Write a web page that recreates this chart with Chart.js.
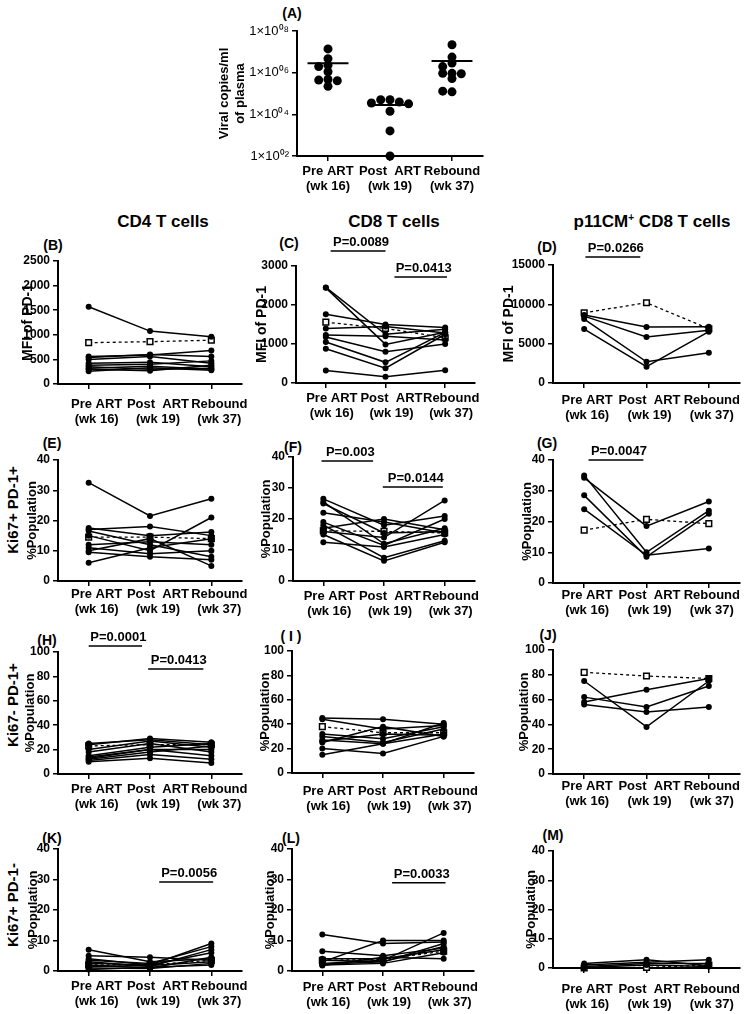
<!DOCTYPE html>
<html>
<head>
<meta charset="utf-8">
<script src="https://cdn.jsdelivr.net/npm/chart.js@4.4.0/dist/chart.umd.min.js"></script>
<style>
  body { margin: 0; background: #fff; width: 754px; height: 1014px; position: relative; overflow: hidden;
         font-family: "Liberation Sans", Arial, sans-serif; }
  canvas { position: absolute; }
  .t { position: absolute; font-weight: bold; color: #000; white-space: nowrap; transform: translate(-50%, -50%); }
  .row { transform: translate(-50%, -50%) rotate(-90deg); font-size: 15px; }
</style>
</head>
<body>

<div class="t" style="left:292px;top:13px;font-size:14px">(A)</div>
<div class="t" style="left:163px;top:222px;font-size:17px">CD4 T cells</div>
<div class="t" style="left:394px;top:222px;font-size:17px">CD8 T cells</div>
<div class="t" style="left:652px;top:222px;font-size:17px">p11CM<sup style="font-size:10px">+</sup> CD8 T cells</div>

<div class="t row" style="left:12px;top:510px">Ki67+ PD-1+</div>
<div class="t row" style="left:12px;top:705px">Ki67- PD-1+</div>
<div class="t row" style="left:12px;top:905px">Ki67+ PD-1-</div>

<div class="t" style="left:53px;top:245px;font-size:14px">(B)</div>
<div class="t" style="left:289px;top:243px;font-size:14px">(C)</div>
<div class="t" style="left:547px;top:247px;font-size:14px">(D)</div>
<div class="t" style="left:52px;top:443px;font-size:14px">(E)</div>
<div class="t" style="left:293px;top:447px;font-size:14px">(F)</div>
<div class="t" style="left:547px;top:443px;font-size:14px">(G)</div>
<div class="t" style="left:47px;top:640px;font-size:14px">(H)</div>
<div class="t" style="left:291px;top:636px;font-size:14px">( I )</div>
<div class="t" style="left:548px;top:635px;font-size:14px">(J)</div>
<div class="t" style="left:52px;top:838px;font-size:14px">(K)</div>
<div class="t" style="left:291px;top:838px;font-size:14px">(L)</div>
<div class="t" style="left:553px;top:835px;font-size:14px">(M)</div>

<script>
// ---- data ----
const timepoints = [['Pre ART', '(wk 16)'], ['Post  ART', '(wk 19)'], ['Rebound', '(wk 37)']];

// (A) viral load, copies/ml
const viralPre = [1.38e7, 4.7e6, 2.3e6, 1.95e6, 1.1e6, 4.7e5, 4.4e5, 4.1e5, 2.2e5];
const viralPost = [5.0e4, 5.0e4, 3.9e4, 3.5e4, 3.2e4, 1.4e4, 1.6e3, 1.0e2];
const viralRebound = [2.2e7, 5.6e6, 2.9e6, 1.95e6, 9.3e5, 9.3e5, 8.9e5, 5.2e5, 1.2e5, 1.3e5];
const viralTicks = [1e2, 1e4, 1e6, 1e8];

// MFI of PD-1 (subject rows: pre, post, rebound) + dotted open-square series
const cd4Mfi = [[1570, 1075, 960], [560, 590, 680], [540, 600, 560], [500, 560, 420], [420, 440, 350],
                [380, 400, 470], [350, 300, 320], [320, 360, 300], [300, 270, 380], [260, 330, 280]];
const cd4MfiSq = [840, 860, 890];
const cd8Mfi = [[2450, 1250, 1380], [2440, 990, 1300], [1760, 1500, 1420], [1400, 1450, 1280], [1230, 1200, 1100],
                [1180, 800, 1000], [1050, 530, 1300], [880, 380, 1250], [320, 160, 330]];
const cd8MfiSq = [1560, 1400, 1160];
const p11Mfi = [[8640, 7110, 7150], [8500, 5840, 6700], [8130, 2700, 3850], [6860, 2070, 6520]];
const p11MfiSq = [8930, 10200, 6900];

// Ki67+ PD-1+ (%)
const cd4KpPp = [[32.5, 21.5, 27.2], [17.5, 15, 16.2], [17, 18, 15], [16.5, 12, 8], [15, 10, 21],
                 [12, 13, 12], [11, 9, 10], [10, 14, 5], [9.5, 8, 7], [6, 11, 14]];
const cd4KpPpSq = [14.5, 14.5, 14];
const cd8KpPp = [[26.5, 18, 21], [25.5, 12, 17], [25, 15.5, 16], [22, 19, 15.5], [19, 11.5, 20],
                 [18, 7.5, 13], [17, 20, 16.5], [16, 14, 26], [15, 6.5, 12.5], [12.5, 11, 15]];
const cd8KpPpSq = [16.2, 16, 15.5];
const p11KpPp = [[35, 10, 23.5], [34.2, 18.5, 26.5], [28.5, 8.5, 22.5], [24, 9, 11.2]];
const p11KpPpSq = [17.2, 20.7, 19.3];

// Ki67- PD-1+ (%)
const cd4KnPp = [[25, 28, 24], [24, 29, 26], [20, 27, 22], [18, 25, 18], [15, 22, 25],
                 [13, 20, 15], [12, 18, 23], [11, 16, 12], [10, 13, 9], [14, 20, 20]];
const cd4KnPpSq = [23, 24, 24];
const cd8KnPp = [[45, 44, 40], [44, 36, 39], [32, 28, 38], [30, 25, 36], [27, 24, 41],
                 [26, 32, 31], [25, 38, 30], [20, 16, 30], [15, 24, 32]];
const cd8KnPpSq = [38, 33, 33];
const p11KnPp = [[75, 38, 75], [62, 54, 71], [58, 68, 77], [56, 50, 54]];
const p11KnPpSq = [82, 79, 77];

// Ki67+ PD-1- (%)
const cd4KpPn = [[7, 3, 4], [5, 4.5, 3.5], [4, 2, 9], [3.5, 2.5, 8], [3, 1.5, 7],
                 [2.5, 2, 6], [2, 1, 4.5], [1.5, 1.8, 3], [1, 0.8, 2.5], [0.5, 1.2, 2]];
const cd4KpPnSq = [2, 2, 3.5];
const cd8KpPn = [[12, 9, 9.5], [6.5, 5, 7.5], [4, 4, 7], [3.5, 3, 8], [3, 10, 10],
                 [2.5, 3.5, 12.5], [2, 2.5, 6], [1.8, 4.5, 4], [2.2, 3, 9]];
const cd8KpPnSq = [3.5, 3.8, 6.5];
const p11KpPn = [[1.5, 2.8, 0.8], [1, 2, 2.8], [0.5, 1.5, 1.5], [0.2, 1, 0.5]];
const p11KpPnSq = [0, 0.2, 1];

const ticksCd4Mfi = [0, 500, 1000, 1500, 2000, 2500];
const ticksCd8Mfi = [0, 1000, 2000, 3000];
const ticksP11Mfi = [0, 5000, 10000, 15000];
const ticksPct40 = [0, 10, 20, 30, 40];
const ticksPct100 = [0, 20, 40, 60, 80, 100];

const pLabelsC = ['P=0.0089', 'P=0.0413'];
const pLabelsD = ['P=0.0266'];
const pLabelsF = ['P=0.003', 'P=0.0144'];
const pLabelsG = ['P=0.0047'];
const pLabelsH = ['P=0.0001', 'P=0.0413'];
const pLabelsK = ['P=0.0056'];
const pLabelsL = ['P=0.0033'];

// ---- drawing ----
Chart.defaults.font.family = '"Liberation Sans", Arial, sans-serif';
Chart.defaults.color = '#000';

const pBars = {
  id: 'pBars',
  afterDatasetsDraw(chart, args, opts) {
    const { ctx, scales: { x, y } } = chart;
    (opts.items || []).forEach(([a, b, v, label]) => {
      const x0 = x.getPixelForValue(a), x1 = x.getPixelForValue(b), yy = y.getPixelForValue(v);
      ctx.save();
      ctx.strokeStyle = '#000';
      ctx.lineWidth = 1.5;
      ctx.beginPath();
      ctx.moveTo(x0, yy);
      ctx.lineTo(x1, yy);
      ctx.stroke();
      ctx.font = 'bold 13px "Liberation Sans", Arial, sans-serif';
      ctx.fillStyle = '#000';
      ctx.textAlign = 'center';
      ctx.textBaseline = 'bottom';
      ctx.fillText(label, (x0 + x1) / 2 + 3, yy - 2);
      ctx.restore();
    });
  }
};

function addCanvas(left, top, w, h) {
  const cv = document.createElement('canvas');
  cv.width = w;
  cv.height = h;
  cv.style.left = left + 'px';
  cv.style.top = top + 'px';
  document.body.appendChild(cv);
  return cv;
}

const axisGrid = { drawOnChartArea: false, tickLength: 5, color: '#000', lineWidth: 1.5 };
const axisBorder = { color: '#000', width: 2 };

// panel A
(function () {
  const l = 297, r = 483, t = 31, b = 156, wy = 80, padTop = 12, hx = 46;
  const cv = addCanvas(l - wy, t - padTop, wy + (r - l) + 12, padTop + (b - t) + hx);
  const sup = { '0': '⁰', '1': '¹', '2': '²', '3': '³', '4': '⁴', '5': '⁵', '6': '⁶', '7': '⁷', '8': '⁸', '9': '⁹' };

  function swarm(vals, c) {
    const placed = [];
    return vals.map(v => {
      const lv = Math.log10(v);
      let pick = 0;
      for (const o of [0, -0.15, 0.15, -0.3, 0.3]) {
        if (!placed.some(p => Math.abs(p.lv - lv) < 0.25 && Math.abs(p.o - o) < 0.1)) { pick = o; break; }
      }
      placed.push({ lv, o: pick });
      return { x: c + pick, y: v };
    });
  }
  const mean = arr => arr.reduce((s, v) => s + v, 0) / arr.length;
  const groups = [viralPre, viralPost, viralRebound];

  const datasets = [];
  groups.forEach((g, i) => {
    datasets.push({ type: 'scatter', data: swarm(g, i + 1), pointRadius: 4.5, pointBackgroundColor: '#000',
                    pointBorderWidth: 0, clip: false });
    const m = mean(g);
    datasets.push({ type: 'line', data: [{ x: i + 1 - 0.33, y: m }, { x: i + 1 + 0.33, y: m }],
                    borderColor: '#000', borderWidth: 2, pointRadius: 0 });
  });

  new Chart(cv, {
    type: 'scatter',
    data: { datasets },
    options: {
      responsive: false, animation: false, devicePixelRatio: 1,
      layout: { padding: { top: padTop, right: 12, left: 0, bottom: 0 } },
      plugins: { legend: { display: false }, tooltip: { enabled: false } },
      scales: {
        x: {
          type: 'linear', min: 0.5, max: 3.5,
          afterBuildTicks: s => { s.ticks = [1, 2, 3].map(v => ({ value: v })); },
          afterFit: s => { s.height = hx; },
          ticks: { font: { size: 13, weight: 'bold', lineHeight: 1.15 }, padding: 3, maxRotation: 0,
                   callback: v => timepoints[v - 1] },
          grid: axisGrid, border: axisBorder
        },
        y: {
          type: 'logarithmic', min: 1e2, max: 1e8,
          afterBuildTicks: s => { s.ticks = viralTicks.map(v => ({ value: v })); },
          afterFit: s => { s.width = wy; },
          ticks: { font: { size: 13 }, padding: 3,
                   callback: v => '1×10' + String(Math.round(Math.log10(v))).padStart(2, '0').split('').map(c => sup[c]).join('') },
          grid: axisGrid, border: axisBorder,
          title: { display: true, text: ['Viral copies/ml', 'of plasma'], font: { size: 13, weight: 'bold' }, padding: 0 }
        }
      }
    }
  });
})();

function linePanel(p) {
  const padTop = 36, hx = 46, padR = 12;
  const wy = Math.round(p.gap + p.titleSize * 0.6);
  const cv = addCanvas(p.l - wy, p.t - padTop, wy + (p.r - p.l) + padR, padTop + (p.b - p.t) + hx);

  const datasets = p.subjects.map(s => ({
    data: s, borderColor: '#000', borderWidth: 1.5, pointRadius: 3, pointBackgroundColor: '#000',
    pointBorderColor: '#000', pointBorderWidth: 0, clip: false
  }));
  datasets.push({
    data: p.sq, borderColor: '#000', borderWidth: 1.3, borderDash: [3, 3], pointStyle: 'rect', pointRadius: 4,
    pointBackgroundColor: '#fff', pointBorderColor: '#000', pointBorderWidth: 1.5, clip: false
  });

  const items = (p.pPos || []).map((pos, i) => [pos[0], pos[1], pos[2], p.pLabels[i]]);

  new Chart(cv, {
    type: 'line',
    data: { labels: timepoints, datasets },
    plugins: [pBars],
    options: {
      responsive: false, animation: false, devicePixelRatio: 1,
      layout: { padding: { top: padTop, right: padR, left: 0, bottom: 0 } },
      plugins: { legend: { display: false }, tooltip: { enabled: false }, pBars: { items } },
      scales: {
        x: {
          offset: true,
          afterFit: s => { s.height = hx; },
          ticks: { font: { size: 13, weight: 'bold', lineHeight: 1.15 }, padding: Math.max(0, p.lab - 11),
                   labelOffset: p.shift, maxRotation: 0, autoSkip: false },
          grid: Object.assign({ offset: false }, axisGrid), border: axisBorder
        },
        y: {
          min: 0, max: p.ticks[p.ticks.length - 1],
          afterBuildTicks: s => { s.ticks = p.ticks.map(v => ({ value: v })); },
          afterFit: s => { s.width = wy; },
          ticks: { font: { size: 12, weight: 'bold' }, padding: 3, callback: v => String(v) },
          grid: axisGrid, border: axisBorder,
          title: { display: true, text: p.title, font: { size: p.titleSize, weight: 'bold' }, padding: 0 }
        }
      }
    }
  });
}

const mfi = 'MFI of PD-1', pct = '%Population';

linePanel({ l: 58, r: 242, t: 261, b: 384, gap: 30, lab: 19, shift: 8, title: mfi, titleSize: 14,
            ticks: ticksCd4Mfi, subjects: cd4Mfi, sq: cd4MfiSq });
linePanel({ l: 296, r: 475, t: 266, b: 383, gap: 34, lab: 14, shift: 6, title: mfi, titleSize: 14,
            ticks: ticksCd8Mfi, subjects: cd8Mfi, sq: cd8MfiSq,
            pLabels: pLabelsC, pPos: [[0.08, 1.0, 3385], [1.15, 2.03, 2718]] });
linePanel({ l: 553, r: 740, t: 265, b: 383, gap: 44, lab: 16, shift: 3, title: mfi, titleSize: 14,
            ticks: ticksP11Mfi, subjects: p11Mfi, sq: p11MfiSq,
            pLabels: pLabelsD, pPos: [[0.02, 0.9, 16010]] });

linePanel({ l: 58, r: 242, t: 460, b: 581, gap: 25, lab: 12, shift: 8, title: pct, titleSize: 13,
            ticks: ticksPct40, subjects: cd4KpPp, sq: cd4KpPpSq });
linePanel({ l: 293, r: 475, t: 457, b: 581, gap: 26, lab: 14, shift: 6, title: pct, titleSize: 13,
            ticks: ticksPct40, subjects: cd8KpPp, sq: cd8KpPpSq,
            pLabels: pLabelsF, pPos: [[-0.03, 0.82, 38.7], [0.98, 1.97, 30.3]] });
linePanel({ l: 553, r: 740, t: 460, b: 583, gap: 25, lab: 10, shift: 3, title: pct, titleSize: 13,
            ticks: ticksPct40, subjects: p11KpPp, sq: p11KpPpSq,
            pLabels: pLabelsG, pPos: [[0.07, 0.95, 40]] });

linePanel({ l: 58, r: 242, t: 652, b: 774, gap: 27, lab: 14, shift: 8, title: pct, titleSize: 13,
            ticks: ticksPct100, subjects: cd4KnPp, sq: cd4KnPpSq,
            pLabels: pLabelsH, pPos: [[0, 0.87, 105], [0.97, 1.87, 86]] });
linePanel({ l: 292, r: 474, t: 651, b: 773, gap: 26, lab: 17, shift: 6, title: pct, titleSize: 13,
            ticks: ticksPct100, subjects: cd8KnPp, sq: cd8KnPpSq });
linePanel({ l: 553, r: 740, t: 650, b: 774, gap: 28, lab: 11, shift: 3, title: pct, titleSize: 13,
            ticks: ticksPct100, subjects: p11KnPp, sq: p11KnPpSq });

linePanel({ l: 58, r: 242, t: 849, b: 971, gap: 24, lab: 14, shift: 8, title: pct, titleSize: 13,
            ticks: ticksPct40, subjects: cd4KpPn, sq: cd4KpPnSq,
            pLabels: pLabelsK, pPos: [[1.15, 2.03, 29.2]] });
linePanel({ l: 292, r: 474, t: 849, b: 971, gap: 21, lab: 15, shift: 6, title: pct, titleSize: 13,
            ticks: ticksPct40, subjects: cd8KpPn, sq: cd8KpPnSq,
            pLabels: pLabelsL, pPos: [[1.15, 2.03, 28.9]] });
linePanel({ l: 553, r: 740, t: 851, b: 968, gap: 21, lab: 20, shift: 3, title: pct, titleSize: 13,
            ticks: ticksPct40, subjects: p11KpPn, sq: p11KpPnSq });
</script>
</body>
</html>
